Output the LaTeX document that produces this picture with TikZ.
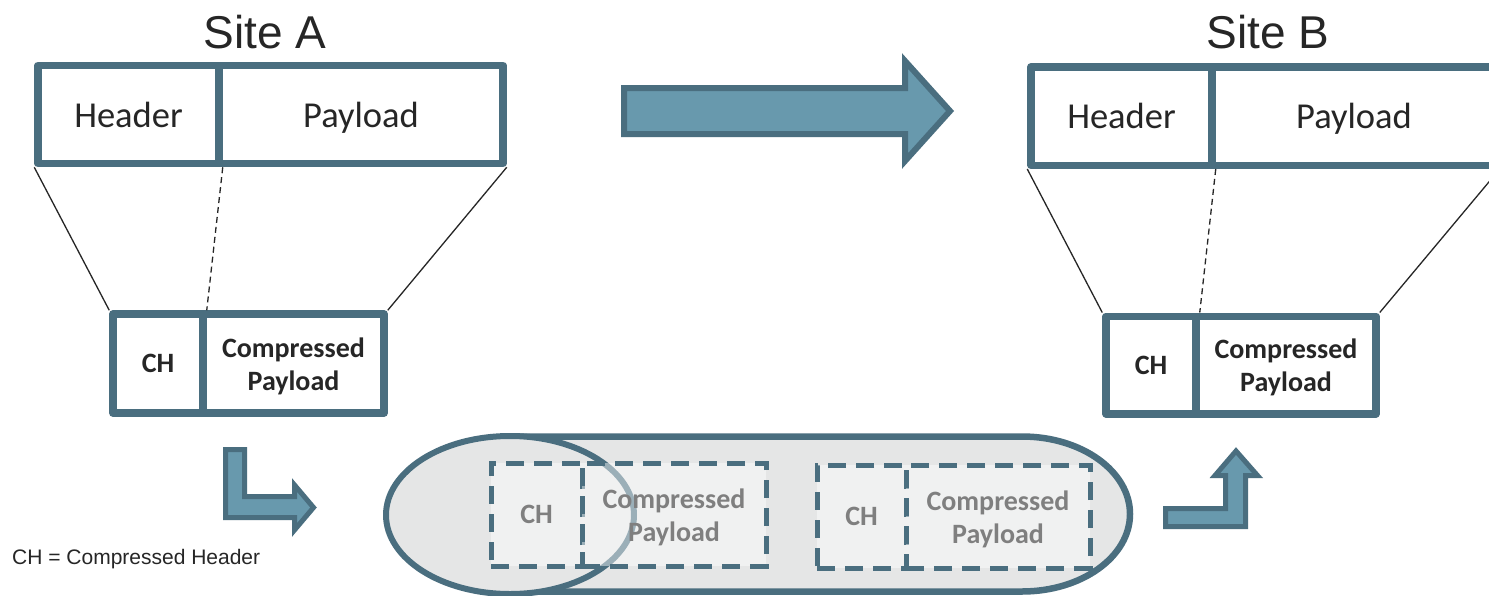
\documentclass[tikz,border=0pt]{standalone}
\usepackage{fontspec}
\setmainfont{Carlito}
\newfontfamily\arialfont{Liberation Sans}
\usetikzlibrary{shapes.geometric}
\definecolor{edgeC}{RGB}{74,110,127}
\definecolor{arrowC}{RGB}{104,153,173}
\definecolor{tubeC}{RGB}{229,230,230}
\definecolor{txtC}{RGB}{38,38,38}
\definecolor{grayT}{RGB}{127,127,127}
\newcommand{\firststrut}{\rule{0pt}{25pt}}
\tikzset{
  cell/.style={draw=edgeC, line width=7.5pt, line join=round, fill=white, inner sep=0pt, text=txtC},
  bigtxt/.style={font=\fontsize{36.5}{40}\selectfont, text height=30pt, text depth=5pt},
  boldtxt/.style={font=\bfseries\fontsize{28}{33}\selectfont, align=center},
  dcell/.style={draw=edgeC, line width=5pt, dash pattern=on 18pt off 10pt, fill=white, fill opacity=0.45, text opacity=1, inner sep=0pt, text=grayT, font=\bfseries\fontsize{28}{33}\selectfont, align=center},
  fan/.style={draw=txtC, line width=1.3pt},
  fandash/.style={draw=txtC, line width=1.3pt, dash pattern=on 6pt off 4pt},
  blockarrow/.style={draw=edgeC, fill=arrowC, line join=miter},
  title/.style={font=\arialfont\fontsize{46}{50}\selectfont, text=txtC, anchor=base, inner sep=0pt}
}
\begin{document}
\begin{tikzpicture}[x=1pt,y=-1pt]
\clip (0,0) rectangle (1489,595);
\fill[white] (0,0) rectangle (1489,595);

% titles
\node[title] (titleA) at (265,48) {Site A};
\node[title] (titleB) at (1268,48) {Site B};

% Site A packet
\node[cell, bigtxt, minimum width=181pt, minimum height=98pt] (hA) at (128.5,114.5) {Header};
\node[cell, bigtxt, minimum width=284pt, minimum height=98pt] (pA) at (361,114.5) {Payload};
\node[cell, boldtxt, minimum width=90pt, minimum height=99pt] (chA) at (158,363.5) {CH};
\node[cell, boldtxt, minimum width=181pt, minimum height=99pt] (cpA) at (293.5,363.5) {\firststrut Compressed\\Payload};

% Site B packet
\node[cell, bigtxt, minimum width=181pt, minimum height=98.5pt] (hB) at (1121.5,116) {Header};
\node[cell, bigtxt, minimum width=284pt, minimum height=98.5pt] (pB) at (1354,116) {Payload};
\node[cell, boldtxt, minimum width=90pt, minimum height=97.5pt] (chB) at (1151,365) {CH};
\node[cell, boldtxt, minimum width=180pt, minimum height=97.5pt] (cpB) at (1286,365) {\firststrut Compressed\\Payload};

% fan lines
\draw[fan] (hA.south west) -- (chA.north west);
\draw[fandash] (hA.south east) -- (chA.north east);
\draw[fan] (pA.south east) -- (cpA.north east);
\draw[fan] (hB.south west) -- (chB.north west);
\draw[fandash] (hB.south east) -- (chB.north east);
\draw[fan] (pB.south east) -- (cpB.north east);

% big arrow
\draw[blockarrow, line width=6pt] (624,88) -- (905,88) -- (905,61) -- (950,111) -- (905,161) -- (905,134) -- (624,134) -- cycle;

% L arrow at Site A
\draw[blockarrow, line width=5pt] (225.5,449.5) -- (244.5,449.5) -- (244.5,496.5) -- (294.5,496.5) -- (294.5,485) -- (313.5,507.5) -- (294.5,530) -- (294.5,517.5) -- (225.5,517.5) -- cycle;

% up arrow at Site B
\draw[blockarrow, line width=5pt] (1165.5,508.5) -- (1225.5,508.5) -- (1225.5,475.5) -- (1215,475.5) -- (1236,451) -- (1257.5,475.5) -- (1245.5,475.5) -- (1245.5,526.5) -- (1165.5,526.5) -- cycle;

% tube (lying cylinder)
\draw[draw=edgeC, fill=tubeC, line width=6.5pt] (510,436.5) -- (1022,436.5) arc[start angle=-90, end angle=90, x radius=108, y radius=77.5] -- (510,591.5) -- cycle;
\node[ellipse, draw=edgeC, fill=tubeC, line width=6pt, minimum width=248pt, minimum height=158pt, inner sep=0pt] (ell) at (510,515) {};

% packets in tube
\node[dcell, minimum width=91pt, minimum height=103pt] (t1ch) at (536.5,514.5) {CH};
\node[dcell, minimum width=184pt, minimum height=103pt] (t1cp) at (674,514.5) {\firststrut Compressed\\Payload};
\node[dcell, minimum width=89pt, minimum height=103pt] (t2ch) at (861.5,516.5) {CH};
\node[dcell, minimum width=184pt, minimum height=103pt] (t2cp) at (998,516.5) {\firststrut Compressed\\Payload};

% footnote
\node[font=\arialfont\fontsize{21}{24}\selectfont, text=txtC, anchor=base west, inner sep=0pt] (note) at (12,564) {CH = Compressed Header};
\end{tikzpicture}
\end{document}
